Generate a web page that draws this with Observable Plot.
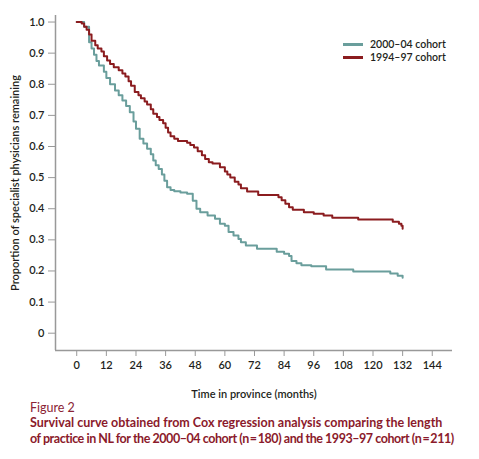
<!DOCTYPE html>
<html>
<head>
<meta charset="utf-8">
<script src="https://cdn.jsdelivr.net/npm/d3@7"></script>
<script src="https://cdn.jsdelivr.net/npm/@observablehq/plot@0.6"></script>
<style>
  body { margin: 0; background: #fff; font-family: Lato, "Open Sans", sans-serif; }
  #wrap { position: relative; width: 479px; }
  .legend { position: absolute; left: 343px; top: 38px; font-size: 10.5px; font-weight: 600; color: #231f20; line-height: 13px; }
  .legend .row { display: flex; align-items: center; height: 13px; }
  .legend .sw { width: 20px; height: 3px; margin-right: 7px; }
  .fig { margin-left: 30px; color: #8b2335; font-size: 12.5px; line-height: 15px; margin-top: 0px; }
  .cap { margin-left: 30px; color: #8b1a2b; font-size: 12.5px; font-weight: 700; line-height: 15.5px; white-space: nowrap; }
  .cap .l2 { letter-spacing: -0.45px; }
</style>
</head>
<body>
<div id="wrap"></div>
<script>
const seriesNames = ["2000–04 cohort", "1994–97 cohort"];
const seriesColors = ["#6a9e9c", "#8b1c1f"];

const monthsA = [0, 3, 5, 6, 7, 8, 9, 11, 12, 13.5, 15.5, 17, 18.5, 20, 21.5, 23, 24, 25.5, 27, 28.5, 30, 31, 32, 33.2, 34.5, 35.5, 36.6, 38, 39.5, 42, 44.7, 47, 48.5, 50, 53, 56, 58, 60, 61.5, 63.5, 65.5, 66.5, 68.5, 73, 81, 84, 86, 87, 89, 91, 95, 101, 112, 127, 130, 132];
const survA  = [1.0, 0.985, 0.935, 0.915, 0.895, 0.875, 0.86, 0.84, 0.82, 0.80, 0.78, 0.765, 0.748, 0.73, 0.71, 0.68, 0.657, 0.625, 0.61, 0.593, 0.575, 0.555, 0.54, 0.528, 0.51, 0.49, 0.469, 0.46, 0.456, 0.452, 0.448, 0.426, 0.40, 0.389, 0.378, 0.368, 0.352, 0.345, 0.325, 0.314, 0.303, 0.292, 0.282, 0.271, 0.262, 0.255, 0.248, 0.232, 0.225, 0.218, 0.215, 0.205, 0.198, 0.192, 0.185, 0.178];

const monthsB = [0, 2, 3, 4, 5, 6, 7.5, 8.5, 10, 11, 12.3, 13.5, 15, 17, 18.5, 19.7, 21, 22, 23.5, 25, 26, 27.5, 28.5, 30, 31, 32.5, 33.5, 35, 36, 37, 38, 39.5, 41, 44.7, 46, 47.5, 49, 50.7, 52, 53.5, 55, 58, 60, 61, 62.2, 64, 65.5, 66.5, 69, 73.5, 81.7, 83, 84.5, 86, 87.5, 92, 96, 100, 103.5, 114, 128, 130.5, 131.5, 132];
const survB  = [1.0, 0.995, 0.985, 0.975, 0.96, 0.94, 0.925, 0.915, 0.905, 0.89, 0.876, 0.865, 0.855, 0.845, 0.835, 0.825, 0.81, 0.795, 0.775, 0.765, 0.755, 0.745, 0.735, 0.72, 0.705, 0.695, 0.685, 0.675, 0.66, 0.645, 0.633, 0.625, 0.618, 0.612, 0.605, 0.597, 0.585, 0.572, 0.56, 0.549, 0.545, 0.533, 0.52, 0.51, 0.50, 0.487, 0.478, 0.466, 0.455, 0.444, 0.437, 0.427, 0.416, 0.405, 0.397, 0.389, 0.384, 0.378, 0.371, 0.365, 0.358, 0.352, 0.345, 0.336];

const xTicks = [0, 12, 24, 36, 48, 60, 72, 84, 96, 108, 120, 132, 144];
const yTicks = [0, 0.1, 0.2, 0.3, 0.4, 0.5, 0.6, 0.7, 0.8, 0.9, 1.0];
const yTickLabels = ["0", "0.1", "0.2", "0.3", "0.4", "0.5", "0.6", "0.7", "0.8", "0.9", "1.0"];

const dataA = monthsA.map((m, i) => ({m, s: survA[i]}));
const dataB = monthsB.map((m, i) => ({m, s: survB[i]}));

const xDom = [-8.6, 152.2];
const yDom = [-0.0556, 1.021];

const chart = Plot.plot({
  width: 479,
  height: 400,
  marginLeft: 55,
  marginRight: 27,
  marginTop: 15,
  marginBottom: 50,
  style: { fontFamily: "Lato, 'Open Sans', sans-serif", fontSize: "11px", fontWeight: 600, color: "#231f20", background: "#fff" },
  x: { domain: xDom },
  y: { domain: yDom },
  marks: [
    Plot.axisX({ ticks: xTicks, tickSize: 6, tickPadding: 5, stroke: "#999", tickFormat: d => String(d), label: "Time in province (months)", labelAnchor: "center", labelOffset: 47, labelArrow: "none" }),
    Plot.axisY({ ticks: yTicks, tickSize: 7, tickPadding: 4, stroke: "#999", tickFormat: (d, i) => yTickLabels[i], label: "Proportion of specialist physicians remaining", labelAnchor: "center", labelOffset: 44, labelArrow: "none" }),
    Plot.ruleX([xDom[0]], { stroke: "#999", strokeWidth: 1.5 }),
    Plot.ruleY([yDom[0]], { stroke: "#999", strokeWidth: 1.5 }),
    Plot.line(dataA, { x: "m", y: "s", curve: "step-after", stroke: seriesColors[0], strokeWidth: 2 }),
    Plot.line(dataB, { x: "m", y: "s", curve: "step-after", stroke: seriesColors[1], strokeWidth: 2 })
  ]
});

const wrap = document.getElementById("wrap");
wrap.appendChild(chart);

const legend = document.createElement("div");
legend.className = "legend";
seriesNames.forEach((n, i) => {
  const row = document.createElement("div");
  row.className = "row";
  const sw = document.createElement("span");
  sw.className = "sw";
  sw.style.background = seriesColors[i];
  const t = document.createElement("span");
  t.textContent = n;
  row.appendChild(sw); row.appendChild(t);
  legend.appendChild(row);
});
wrap.appendChild(legend);

const fig = document.createElement("div");
fig.className = "fig";
fig.textContent = "Figure 2";
wrap.appendChild(fig);
const cap = document.createElement("div");
cap.className = "cap";
cap.innerHTML = "<div>Survival curve obtained from Cox regression analysis comparing the length</div><div class=\"l2\">of practice in NL for the 2000–04 cohort (n\u2009=\u2009180) and the 1993–97 cohort (n\u2009=\u2009211)</div>";
wrap.appendChild(cap);
</script>
</body>
</html>
